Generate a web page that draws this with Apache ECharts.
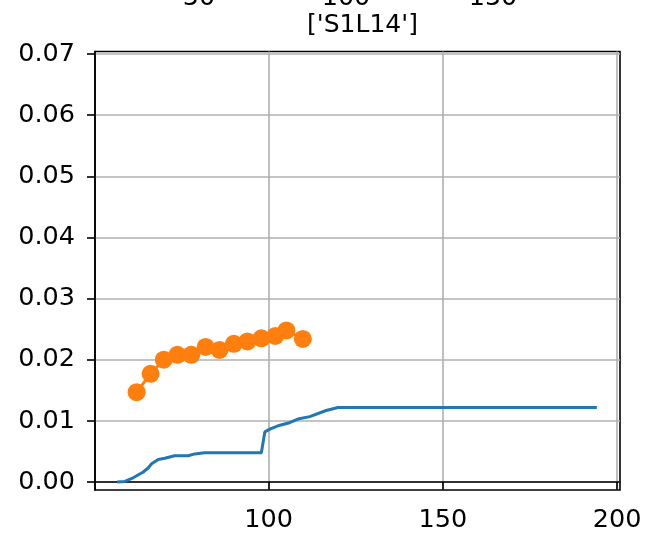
<!DOCTYPE html>
<html>
<head>
<meta charset="utf-8">
<script src="https://cdn.jsdelivr.net/npm/echarts@6/dist/echarts.min.js"></script>
<style>
html,body{margin:0;padding:0;background:#fff;}
#main{width:646px;height:537px;}
</style>
</head>
<body>
<div id="main"></div>
<script>
const titleText = "['S1L14']";
const blueX = [56.5, 58.7, 61.1, 63.9, 65.4, 66.4, 68.3, 70.2, 71.6, 73.0, 76.9, 78.8, 81.6, 97.9, 98.9, 100.5, 103.2, 106.0, 108.4, 111.8, 116.5, 119.9, 194.2];
const blueY = [0.0000, 0.0001, 0.0007, 0.0016, 0.0023, 0.0030, 0.0037, 0.0039, 0.0041, 0.0043, 0.0043, 0.0046, 0.0048, 0.0048, 0.0082, 0.0087, 0.0093, 0.0097, 0.0103, 0.0107, 0.0117, 0.0122, 0.0122];
const orangeX = [62.1, 66.1, 69.9, 73.8, 77.8, 81.9, 85.9, 90.0, 93.9, 97.9, 101.9, 105.1, 109.8];
const orangeY = [0.0147, 0.0177, 0.0200, 0.0208, 0.0208, 0.0221, 0.0216, 0.0226, 0.0230, 0.0235, 0.0239, 0.0248, 0.0234];
const xTicks = [100, 150, 200];
const yTicks = [0, 0.01, 0.02, 0.03, 0.04, 0.05, 0.06, 0.07];
const topTicks = [50, 100, 150];

const FONT = 'DejaVu Sans';
const FS = 25.5;
const chart = echarts.init(document.getElementById('main'), null, {renderer: 'canvas'});
const zip = (a, b) => a.map((v, i) => [v, b[i]]);

chart.setOption({
  animation: false,
  backgroundColor: '#fff',
  textStyle: {fontFamily: FONT},
  title: {
    text: titleText,
    left: 357.5,
    textAlign: 'center',
    top: 8,
    textStyle: {fontFamily: FONT, fontSize: 25, fontWeight: 'normal', color: '#000'}
  },
  grid: [
    {left: 95, right: 26, top: 51.5, bottom: 47, show: true, borderColor: '#000', borderWidth: 1.6,
      containLabel: false, outerBoundsMode: 'none'},
    {left: 52, width: 588, top: -100, height: 80, show: false, containLabel: false, outerBoundsMode: 'none'}
  ],
  xAxis: [
    {
      type: 'value', gridIndex: 0, min: 50.15, max: 200.85,
      axisLine: {show: true, lineStyle: {color: '#000', width: 1.6}},
      axisTick: {show: true, length: 8, lineStyle: {color: '#000', width: 1.6}, customValues: xTicks},
      axisLabel: {show: true, customValues: xTicks, margin: 17, color: '#000', fontSize: FS, fontFamily: FONT},
      splitLine: {show: true, lineStyle: {color: '#b0b0b0', width: 1.6}}
    },
    {
      type: 'value', gridIndex: 1, min: 0, max: 200,
      axisLine: {show: false}, axisTick: {show: false}, splitLine: {show: false},
      axisLabel: {show: true, customValues: topTicks, margin: 5, color: '#000', fontSize: FS, fontFamily: FONT}
    }
  ],
  yAxis: [
    {
      type: 'value', gridIndex: 0, min: -0.0013, max: 0.0704,
      axisLine: {show: true, lineStyle: {color: '#000', width: 1.6}},
      axisTick: {show: true, length: 8, lineStyle: {color: '#000', width: 1.6}, customValues: yTicks},
      axisLabel: {show: true, customValues: yTicks, margin: 20, color: '#000', fontSize: FS, fontFamily: FONT,
        formatter: v => v.toFixed(2)},
      splitLine: {show: true, lineStyle: {color: '#b0b0b0', width: 1.6}}
    },
    {
      type: 'value', gridIndex: 1, show: false
    }
  ],
  series: [
    {
      type: 'line', xAxisIndex: 0, yAxisIndex: 0,
      data: zip(blueX, blueY),
      showSymbol: false, symbol: 'none',
      lineStyle: {color: '#1f77b4', width: 3},
      itemStyle: {color: '#1f77b4'},
      z: 3
    },
    {
      type: 'line', xAxisIndex: 0, yAxisIndex: 0,
      data: zip(orangeX, orangeY),
      symbol: 'circle', symbolSize: 18, showSymbol: true,
      lineStyle: {color: '#ff7f0e', width: 3},
      itemStyle: {color: '#ff7f0e'},
      z: 4
    }
  ]
});
</script>
</body>
</html>
